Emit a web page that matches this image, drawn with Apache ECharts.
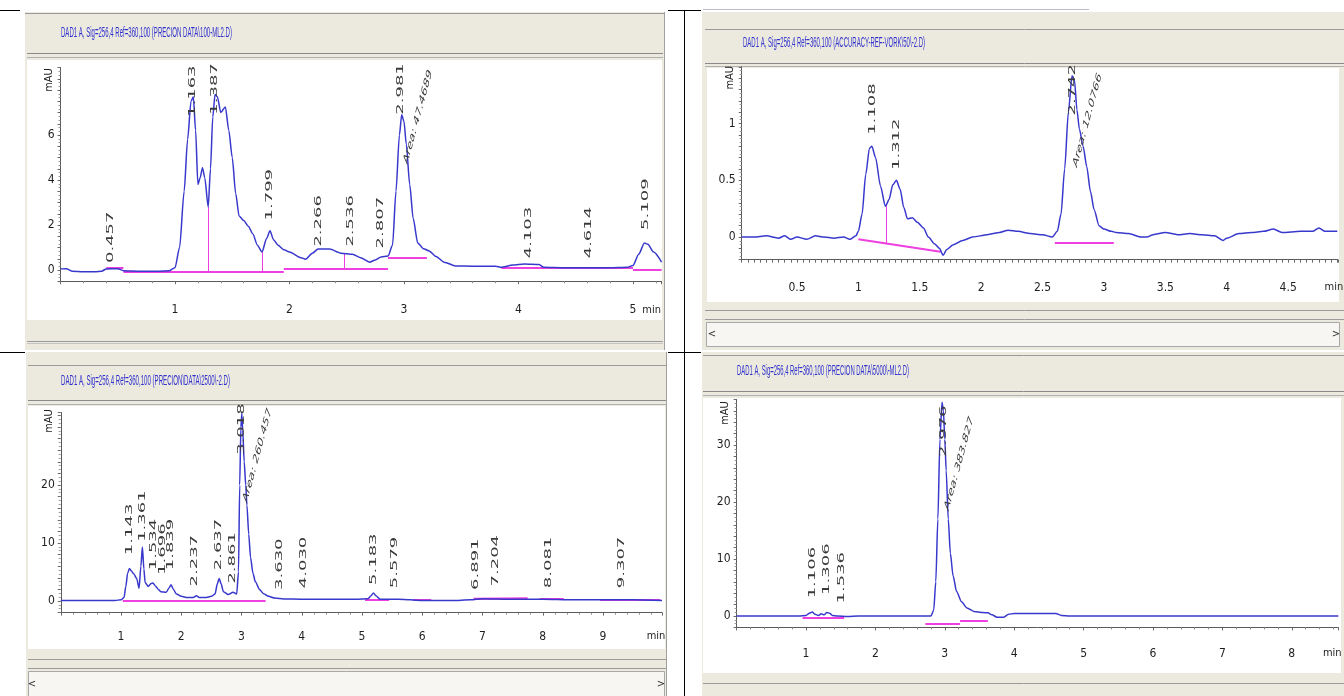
<!DOCTYPE html>
<html><head><meta charset="utf-8">
<script src="https://cdn.jsdelivr.net/npm/echarts@6.0.0/dist/echarts.min.js"></script>
<style>html,body{margin:0;padding:0;background:#fff}#c{width:1344px;height:696px}</style>
</head><body><div id="c"></div>
<script>
// ---------------- DATA ----------------
// Panel titles
const tlTitle = 'DAD1 A, Sig=256,4 Ref=360,100 (PRECION DATA\\100-ML2.D)';
const trTitle = 'DAD1 A, Sig=256,4 Ref=360,100 (ACCURACY-REF-VORK\\50\\-2.D)';
const blTitle = 'DAD1 A, Sig=256,4 Ref=360,100 (PRECION\\DATA\\2500\\-2.D)';
const brTitle = 'DAD1 A, Sig=256,4 Ref=360,100 (PRECION DATA\\5000\\-ML2.D)';

// Tick labels
const tlXLabels = [1, 2, 3, 4, 5];
const tlYLabels = [0, 2, 4, 6];
const trXLabels = [0.5, 1, 1.5, 2, 2.5, 3, 3.5, 4, 4.5];
const trYLabels = [0, 0.5, 1];
const blXLabels = [1, 2, 3, 4, 5, 6, 7, 8, 9];
const blYLabels = [0, 10, 20];
const brXLabels = [1, 2, 3, 4, 5, 6, 7, 8];
const brYLabels = [0, 10, 20, 30];

// Top-left chromatogram (min, mAU)
const tlTime = [0.00,0.05,0.10,0.20,0.30,0.36,0.40,0.50,0.55,0.70,0.85,0.95,1.00,1.04,1.08,1.11,1.14,1.16,1.18,1.20,1.22,1.24,1.26,1.29,1.31,1.33,1.35,1.37,1.40,1.44,1.47,1.50,1.53,1.56,1.60,1.64,1.68,1.72,1.76,1.80,1.83,1.86,1.90,1.95,2.00,2.10,2.14,2.20,2.25,2.35,2.45,2.55,2.62,2.70,2.75,2.80,2.86,2.90,2.93,2.96,2.98,3.00,3.02,3.05,3.08,3.12,3.17,3.22,3.28,3.35,3.45,3.60,3.80,3.85,3.95,4.05,4.18,4.22,4.40,4.60,4.80,4.95,5.00,5.05,5.10,5.13,5.18,5.25];
const tlSignal = [0.05,0.06,-0.05,-0.08,-0.08,-0.05,0.05,0.06,-0.03,-0.05,-0.06,-0.03,0.10,1.0,3.5,5.8,7.5,7.7,6.2,3.8,4.1,4.55,4.1,2.8,4.5,6.8,7.8,7.7,7.0,7.25,6.2,5.0,3.4,2.4,2.2,1.95,1.6,1.1,0.8,1.4,1.75,1.35,1.1,0.9,0.8,0.55,0.48,0.75,0.93,0.93,0.75,0.7,0.55,0.35,0.45,0.58,0.62,1.1,3.5,6.0,6.9,6.6,5.6,3.8,2.3,1.2,0.95,0.85,0.6,0.35,0.18,0.17,0.17,0.12,0.22,0.27,0.25,0.12,0.1,0.1,0.1,0.12,0.2,0.7,1.2,1.15,0.8,0.35];
const tlBaseline = [[0.40,0.08,0.55,0.08],[0.55,-0.07,1.95,-0.07],[1.95,0.04,2.86,0.04],[2.86,0.55,3.20,0.55],[3.85,0.08,5.00,0.08],[5.00,0.02,5.25,0.02]];
const tlDrops = [[1.29,2.8,1.29,-0.07],[1.76,0.8,1.76,-0.07],[2.48,0.74,2.48,0.04]];
const tlPeakTime = [0.44,1.15,1.35,1.83,2.255,2.53,2.80,2.975,4.09,4.61,5.11];
const tlPeakLabelY = [0.31,6.8,6.9,2.2,1.04,1.04,0.96,6.9,0.52,0.52,1.78];
const tlPeakText = ['0.457','1.163','1.387','1.799','2.266','2.536','2.807','2.981','4.103','4.614','5.109'];
const tlAreaAt = [3.013, 4.74];
const tlAreaText = 'Area: 47.4689';

// Top-right chromatogram
const trTime = [0.05,0.15,0.25,0.35,0.40,0.45,0.50,0.58,0.65,0.72,0.80,0.88,0.93,0.98,1.00,1.03,1.06,1.09,1.11,1.14,1.18,1.22,1.25,1.28,1.31,1.34,1.37,1.40,1.44,1.48,1.53,1.57,1.62,1.66,1.69,1.72,1.77,1.85,1.93,2.05,2.15,2.22,2.30,2.40,2.50,2.58,2.62,2.65,2.68,2.71,2.74,2.76,2.78,2.80,2.83,2.86,2.89,2.92,2.96,3.00,3.06,3.10,3.20,3.30,3.35,3.40,3.50,3.60,3.70,3.80,3.90,3.97,4.00,4.10,4.20,4.30,4.38,4.45,4.60,4.70,4.75,4.80,4.90];
const trSignal = [0.0,0.0,0.01,-0.01,0.01,-0.02,0.0,-0.02,0.01,0.0,-0.01,0.0,-0.02,0.01,0.05,0.2,0.55,0.78,0.8,0.7,0.45,0.27,0.33,0.46,0.5,0.42,0.26,0.16,0.17,0.13,0.08,0.0,-0.06,-0.1,-0.16,-0.11,-0.07,-0.03,0.0,0.02,0.04,0.06,0.05,0.03,0.02,0.0,0.05,0.2,0.6,1.1,1.42,1.38,1.12,0.95,0.8,0.62,0.4,0.24,0.1,0.07,0.05,0.04,0.03,0.0,0.0,0.02,0.04,0.02,0.03,0.02,0.01,-0.03,-0.01,0.03,0.04,0.05,0.07,0.04,0.05,0.05,0.08,0.05,0.05];
const trBaseline = [[1.00,-0.02,1.67,-0.13],[2.60,-0.05,3.08,-0.05]];
const trDrops = [[1.225,0.27,1.225,-0.06]];
const trPeakTime = [1.113,1.312,2.742];
const trPeakLabelY = [0.90,0.59,1.07];
const trPeakText = ['1.108','1.312','2.742'];
const trAreaAt = [2.764, 0.62];
const trAreaText = 'Area: 12.0766';

// Bottom-left chromatogram
const blTime = [0.00,0.30,0.60,0.90,1.00,1.05,1.08,1.11,1.14,1.17,1.21,1.26,1.30,1.33,1.355,1.38,1.40,1.45,1.50,1.53,1.57,1.62,1.66,1.75,1.80,1.83,1.87,1.92,2.00,2.10,2.20,2.25,2.30,2.40,2.50,2.56,2.60,2.63,2.66,2.70,2.78,2.86,2.92,2.95,2.97,2.99,3.005,3.02,3.045,3.07,3.09,3.12,3.15,3.19,3.23,3.30,3.36,3.45,3.55,3.70,4.00,4.50,4.90,5.10,5.15,5.19,5.23,5.30,5.60,5.80,6.00,6.50,6.80,7.00,7.50,8.00,8.50,9.00,9.50,9.98];
const blSignal = [0.1,0.1,0.1,0.1,0.2,0.6,2.5,4.8,5.6,5.2,4.7,3.9,2.2,6.0,9.3,5.5,3.2,2.5,3.0,3.1,2.6,2.0,1.6,1.5,2.3,2.8,2.0,1.2,0.8,0.6,0.6,0.9,0.6,0.6,0.8,1.2,3.0,3.9,3.0,1.6,1.1,1.5,1.2,5,20,30,32.3,29.5,24,20,16.5,11.5,7.5,4.8,3.3,2.0,1.3,0.8,0.5,0.35,0.3,0.3,0.3,0.4,0.9,1.4,0.9,0.3,0.3,0.2,0.1,0.1,0.2,0.4,0.3,0.3,0.2,0.2,0.2,0.1];
const blBaseline = [[1.03,0.1,3.40,0.1],[5.05,0.15,5.45,0.15],[5.85,0.25,6.15,0.25],[6.85,0.35,7.75,0.45],[7.95,0.45,8.35,0.45],[8.95,0.3,9.95,0.3]];
const blPeakTime = [1.138,1.354,1.537,1.692,1.83,2.228,2.627,2.848,3.003,3.639,4.026,5.188,5.548,6.892,7.224,8.092,9.31];
const blPeakLabelY = [7.9,10.2,5.3,4.5,5.3,2.5,5.3,3.0,25.2,1.9,2.2,2.76,2.2,1.9,2.5,2.2,2.2];
const blPeakText = ['1.143','1.361','1.534','1.696','1.839','2.237','2.637','2.861','3.018','3.630','4.030','5.183','5.579','6.891','7.204','8.081','9.307'];
const blAreaAt = [3.058, 17.1];
const blAreaText = 'Area: 260.457';

// Bottom-right chromatogram
const brTime = [0.00,0.50,0.90,1.00,1.05,1.09,1.13,1.18,1.22,1.26,1.30,1.34,1.38,1.45,1.60,1.75,2.50,2.80,2.84,2.87,2.90,2.93,2.96,2.98,3.00,3.02,3.05,3.08,3.12,3.17,3.24,3.32,3.42,3.55,3.62,3.68,3.75,3.85,3.92,4.00,4.40,4.60,4.68,4.80,6.00,8.00,8.67];
const brSignal = [0,0,0,0.1,0.5,0.7,0.3,0.1,0.4,0.2,0.6,0.5,0.1,0,-0.1,0,0,0,1.0,6,17,31,37.5,36,31,25.5,17,11,7,4.3,2.5,1.4,0.8,0.6,0.55,0.2,-0.2,-0.2,0.3,0.45,0.45,0.45,0.1,0,0,0,0];
const brBaseline = [[0.95,-0.3,1.55,-0.3],[2.72,-1.3,3.22,-1.3],[3.22,-0.8,3.62,-0.8]];
const brPeakTime = [1.09,1.298,1.514,2.978];
const brPeakLabelY = [3.1,3.7,2.2,27.9];
const brPeakText = ['1.106','1.306','1.536','2.976'];
const brAreaAt = [3.027, 18.6];
const brAreaText = 'Area: 383.827';

// ---------------- LAYOUT / STYLE ----------------
const FONT_AX = '"Liberation Sans Narrow","DejaVu Sans Condensed","Liberation Sans",Arial,sans-serif';
const BEIGE = '#ECEADF';
const BLUE = '#3838cc';
const MAGENTA = '#ee3fe0';
const STRETCH = 2.0;

function near(list){ return v => list.some(l => Math.abs(l - v) < 1e-6) ? String(+(+v).toFixed(2)) : ''; }

function xAxisOpt(gi, min, max, interval, labels, margin, nameGap, minorSplit){
  return {type:'value', gridIndex:gi, min, max, interval,
    axisLine:{onZero:false, lineStyle:{color:'#5a5a5a', width:1}},
    axisTick:{show:true, length:3, lineStyle:{color:'#6a6a6a'}},
    minorTick:{show:!!minorSplit, splitNumber:minorSplit||5, length:2, lineStyle:{color:'#8a8a8a'}},
    splitLine:{show:false}, minorSplitLine:{show:false},
    axisLabel:{formatter:near(labels), margin, fontSize:12, fontFamily:FONT_AX, color:'#1e1e1e'},
    name:'min', nameLocation:'end', nameGap,
    nameTextStyle:{fontSize:11, fontFamily:FONT_AX, color:'#1e1e1e', align:'center', verticalAlign:'top', padding:[margin,0,0,0]}
  };
}
function yAxisOpt(gi, min, max, interval, labels, nameGap){
  return {type:'value', gridIndex:gi, min, max, interval,
    axisLine:{onZero:false, lineStyle:{color:'#5a5a5a', width:1}},
    axisTick:{show:true, length:3, lineStyle:{color:'#6a6a6a'}},
    minorTick:{show:true, splitNumber:3, length:2, lineStyle:{color:'#9a9a9a'}},
    splitLine:{show:false}, minorSplitLine:{show:false},
    axisLabel:{formatter:near(labels), margin:6, fontSize:12, fontFamily:FONT_AX, color:'#1e1e1e'},
    name:'mAU', nameLocation:'end', nameGap, nameRotate:90,
    nameTextStyle:{fontSize:11, fontFamily:FONT_AX, color:'#1e1e1e', align:'center', verticalAlign:'bottom', padding:[0,0,6,0]}
  };
}
function sig(gi, times, vals){
  return {type:'line', xAxisIndex:gi, yAxisIndex:gi, data:times.map((t,i)=>[t, vals[i]]),
    showSymbol:false, symbol:'none', smooth:0.25, smoothMonotone:'x',
    lineStyle:{color:BLUE, width:1.5}, z:3, silent:true};
}
function segs(gi, list, color, width){
  return {type:'lines', coordinateSystem:'cartesian2d', xAxisIndex:gi, yAxisIndex:gi,
    data:list.map(s=>({coords:[[s[0],s[1]],[s[2],s[3]]]})),
    lineStyle:{color, width, opacity:1, curveness:0}, z:2, silent:true};
}
function labelSeries(gi, times, ys, texts, rot, fontSize){
  return {type:'custom', xAxisIndex:gi, yAxisIndex:gi, z:5, silent:true,
    data:times.map((t,i)=>[t, ys[i], i]), encode:{x:0, y:1},
    renderItem:(params, api)=>{
      const p = api.coord([api.value(0), api.value(1)]);
      const txt = texts[api.value(2)];
      return {type:'group', x:p[0], y:p[1], scaleY:STRETCH, children:[
        {type:'text', rotation:rot, style:{text:txt, fontSize, fontFamily:'"DejaVu Sans",sans-serif',
          fill:'#3a3a3a', align:'left', verticalAlign:'middle'}}]};
    }};
}
const VROT = Math.PI/2;
const AROT = Math.atan(Math.tan(75*Math.PI/180)/STRETCH);

// ---------------- FRAME GRAPHICS ----------------
const G = [];
function rect(x,y,w,h,fill,stroke){ G.push({type:'rect', silent:true, z:-10, shape:{x,y,width:w,height:h}, style:{fill, stroke:stroke||null, lineWidth:1}}); }
function hline(x1,x2,y,c,w){ G.push({type:'line', silent:true, z:-9, shape:{x1,y1:y,x2,y2:y}, style:{stroke:c, lineWidth:w||1}}); }
function vline(x,y1,y2,c,w){ G.push({type:'line', silent:true, z:-9, shape:{x1:x,y1,x2:x,y2}, style:{stroke:c, lineWidth:w||1}}); }
const mctx = document.createElement('canvas').getContext('2d');
function title(x,y,text,w){
  const font = '12px "Liberation Sans", Arial, sans-serif';
  mctx.font = font;
  const k = w / mctx.measureText(text).width;
  G.push({type:'text', silent:true, z:-8, x, y, scaleX:k, scaleY:1.2, style:{text, font, fill:'#3030cc', verticalAlign:'middle'}});
}
function glyph(x,y,text){ G.push({type:'text', silent:true, z:-8, x, y, style:{text, font:'10px "DejaVu Sans"', fill:'#333', align:'center', verticalAlign:'middle'}}); }

// TL panel
rect(25,12,640,338,BEIGE);
hline(25,665,13.5,'#9a9a9a');
hline(27,663,53.5,'#8a8a8a'); hline(27,663,57.5,'#b0b0b0');
rect(27,60,635,260,'#ffffff');
hline(27,663,341.5,'#9a9a9a'); hline(27,663,343.5,'#c4c4c4');
vline(664.5,12,350,'#a0a0a0');
title(61,33,tlTitle,171);
// TR panel
hline(703,1089,9.5,'#b8bcc8');
rect(702,12,642,338,BEIGE);
hline(705,1344,29.5,'#9a9a9a');
hline(705,1344,63.5,'#8a8a8a'); hline(705,1344,66.5,'#b0b0b0');
rect(707,68,632,234,'#ffffff');
hline(705,1344,310.5,'#9a9a9a'); hline(705,1344,319.5,'#9a9a9a');
rect(706.5,322.5,633,24,'#f7f6f2','#a8a8a8');
glyph(712,334,'<'); glyph(1336,334,'>');
title(743,43,trTitle,182);
// BL panel
rect(26,352,641,344,BEIGE);
hline(28,666,365.5,'#9a9a9a');
hline(28,666,400.5,'#8a8a8a'); hline(28,666,404.5,'#b0b0b0');
rect(28,406,637,243,'#ffffff');
hline(28,666,659.5,'#9a9a9a'); hline(28,666,668.5,'#9a9a9a');
rect(28.5,671.5,636,25,'#f7f6f2','#a8a8a8');
glyph(32,684,'<'); glyph(661,684,'>');
vline(666.5,352,696,'#a0a0a0');
title(61,381.5,blTitle,169);
// BR panel
rect(702,352,642,344,BEIGE);
hline(703,1344,355.5,'#9a9a9a');
hline(703,1344,391.5,'#8a8a8a'); hline(703,1344,395.5,'#b0b0b0');
rect(703,398,638,275,'#ffffff');
hline(703,1344,683.5,'#9a9a9a');
title(737,371.5,brTitle,172);
// black separator lines
hline(0,20,10.5,'#000'); hline(668,701,10.5,'#000');
vline(684.5,10,696,'#000');
hline(0,25,352.5,'#000'); hline(668,701,352.5,'#000');

// ---------------- CHART ----------------
const chart = echarts.init(document.getElementById('c'), null, {renderer:'canvas', width:1344, height:696});
chart.setOption({
  animation:false,
  backgroundColor:'#ffffff',
  graphic:{elements:G},
  grid:[
    {left:60.5, top:67.5, width:601.1, height:213.75, containLabel:false, outerBoundsMode:'none'},
    {left:741.7, top:66.75, width:596.2, height:192.95, containLabel:false, outerBoundsMode:'none'},
    {left:60.75, top:412.5, width:601.3, height:200.1, containLabel:false, outerBoundsMode:'none'},
    {left:736.6, top:399.4, width:601.7, height:228, containLabel:false, outerBoundsMode:'none'}
  ],
  xAxis:[
    xAxisOpt(0, 0, 5.25, 1, tlXLabels, 23, -10, 5),
    xAxisOpt(1, 0.05, 4.905, 0.05, trXLabels, 22, -4, 0),
    xAxisOpt(2, 0, 9.98, 1, blXLabels, 18, -6, 5),
    xAxisOpt(3, 0, 8.67, 1, brXLabels, 20, -6, 5)
  ],
  yAxis:[
    yAxisOpt(0, -0.5, 9, 0.5, tlYLabels, -12.5),
    yAxisOpt(1, -0.2, 1.5, 0.1, trYLabels, -11),
    yAxisOpt(2, -2, 32.5, 2, blYLabels, -8.5),
    yAxisOpt(3, -2, 38, 2, brYLabels, -13.6)
  ],
  series:[
    segs(0, tlBaseline, MAGENTA, 2.2), segs(0, tlDrops, MAGENTA, 1),
    segs(1, trBaseline, MAGENTA, 2.2), segs(1, trDrops, MAGENTA, 1),
    segs(2, blBaseline, MAGENTA, 2.2),
    segs(3, brBaseline, MAGENTA, 2.2),
    sig(0, tlTime, tlSignal), sig(1, trTime, trSignal), sig(2, blTime, blSignal), sig(3, brTime, brSignal),
    labelSeries(0, tlPeakTime, tlPeakLabelY, tlPeakText, VROT, 9),
    labelSeries(1, trPeakTime, trPeakLabelY, trPeakText, VROT, 9),
    labelSeries(2, blPeakTime, blPeakLabelY, blPeakText, VROT, 9),
    labelSeries(3, brPeakTime, brPeakLabelY, brPeakText, VROT, 9),
    labelSeries(0, [tlAreaAt[0]], [tlAreaAt[1]], [tlAreaText], AROT, 7.4),
    labelSeries(1, [trAreaAt[0]], [trAreaAt[1]], [trAreaText], AROT, 7.4),
    labelSeries(2, [blAreaAt[0]], [blAreaAt[1]], [blAreaText], AROT, 7.4),
    labelSeries(3, [brAreaAt[0]], [brAreaAt[1]], [brAreaText], AROT, 7.4)
  ]
});
</script></body></html>
